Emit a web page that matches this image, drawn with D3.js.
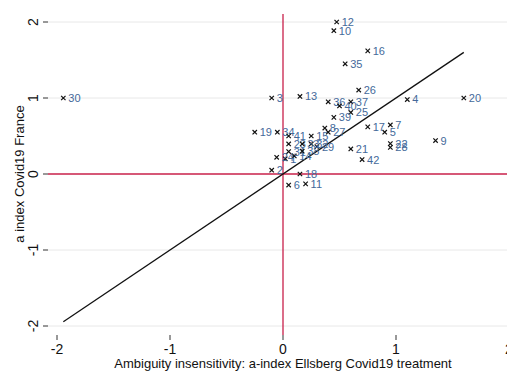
<!DOCTYPE html>
<html>
<head>
<meta charset="utf-8">
<script src="https://cdn.jsdelivr.net/npm/d3@7"></script>
<style>
  body { margin: 0; background: #fff; }
  svg { display: block; font-family: "Liberation Sans", Arial, sans-serif; }
</style>
</head>
<body>
<div id="chart"></div>
<script>
const WIDTH = 507;
const HEIGHT = 372;

// respondent ids and their two a-index values
const ids = [1, 2, 3, 4, 5, 6, 7, 8, 9, 10, 11, 12, 13, 14, 15, 16, 17, 18, 19, 20, 21,
  22, 23, 24, 25, 26, 27, 28, 29, 30, 31, 32, 33, 34, 35, 36, 37, 38, 39, 40, 41, 42];
const ellsberg = [0.02, -0.10, -0.10, 1.10, 0.90, 0.05, 0.95, 0.37, 1.35, 0.45, 0.20, 0.475, 0.15, 0.10,
  0.25, 0.75, 0.75, 0.15, -0.25, 1.60, 0.60, 0.95, 0.05, -0.056, 0.60, 0.67, 0.40, 0.95, 0.30, -1.944,
  0.05, 0.25, 0.17, -0.05, 0.55, 0.40, 0.60, 0.17, 0.45, 0.50, 0.05, 0.70];
const france = [0.20, 0.05, 1.00, 0.98, 0.55, -0.145, 0.645, 0.605, 0.44, 1.885, -0.13, 2.00, 1.02, 0.237,
  0.50, 1.62, 0.62, 0.00, 0.55, 1.00, 0.33, 0.40, 0.395, 0.22, 0.81, 1.105, 0.55, 0.35, 0.36, 1.00,
  0.295, 0.395, 0.395, 0.55, 1.45, 0.95, 0.95, 0.30, 0.745, 0.895, 0.50, 0.19];
const xTicks = [-2, -1, 0, 1, 2];
const yTicks = [-2, -1, 0, 1, 2];

const points = ids.map((id, i) => ({ id, x: ellsberg[i], y: france[i] }));

const plotLeft = 48, plotRight = 520, plotTop = 14, plotBottom = 335;

const x = d3.scaleLinear().domain([-2, 2]).range([57, 509]);
const y = d3.scaleLinear().domain([-2, 2]).range([326, 22]);

const svg = d3.select("#chart").append("svg")
  .attr("width", WIDTH)
  .attr("height", HEIGHT);

// horizontal grid
svg.append("g")
  .selectAll("line")
  .data(yTicks.filter(d => d !== 0))
  .enter().append("line")
  .attr("x1", plotLeft).attr("x2", plotRight)
  .attr("y1", d => y(d)).attr("y2", d => y(d))
  .attr("stroke", "#e8e8e8")
  .attr("stroke-width", 1);

// y axis ticks + rotated labels
const yAxis = svg.append("g");
yAxis.selectAll("line")
  .data(yTicks)
  .enter().append("line")
  .attr("x1", plotLeft - 5).attr("x2", plotLeft)
  .attr("y1", d => y(d)).attr("y2", d => y(d))
  .attr("stroke", "#333").attr("stroke-width", 1);
yAxis.selectAll("text")
  .data(yTicks)
  .enter().append("text")
  .attr("transform", d => `translate(38,${y(d)}) rotate(-90)`)
  .attr("text-anchor", "middle")
  .attr("font-size", 14)
  .attr("fill", "#111")
  .text(d => d);

// x axis ticks + labels
const xAxis = svg.append("g");
xAxis.selectAll("line")
  .data(xTicks)
  .enter().append("line")
  .attr("x1", d => x(d)).attr("x2", d => x(d))
  .attr("y1", plotBottom).attr("y2", plotBottom + 5)
  .attr("stroke", "#333").attr("stroke-width", 1);
xAxis.selectAll("text")
  .data(xTicks)
  .enter().append("text")
  .attr("x", d => x(d))
  .attr("y", 354)
  .attr("text-anchor", "middle")
  .attr("font-size", 14)
  .attr("fill", "#111")
  .text(d => d);

// axis titles
svg.append("text")
  .attr("x", x(0)).attr("y", 368)
  .attr("text-anchor", "middle")
  .attr("font-size", 13)
  .attr("fill", "#111")
  .text("Ambiguity insensitivity: a-index Ellsberg Covid19 treatment");

svg.append("text")
  .attr("transform", `translate(24,${y(0)}) rotate(-90)`)
  .attr("text-anchor", "middle")
  .attr("font-size", 13)
  .attr("fill", "#111")
  .text("a index Covid19 France");

// red reference lines at zero
svg.append("line")
  .attr("x1", plotLeft).attr("x2", plotRight)
  .attr("y1", y(0)).attr("y2", y(0))
  .attr("stroke", "#c8204a").attr("stroke-width", 1.3);
svg.append("line")
  .attr("x1", x(0)).attr("x2", x(0))
  .attr("y1", plotTop).attr("y2", plotBottom)
  .attr("stroke", "#c8204a").attr("stroke-width", 1.3);

// 45 degree line over the data range
const xr = d3.extent(ellsberg);
svg.append("line")
  .attr("x1", x(xr[0])).attr("y1", y(xr[0]))
  .attr("x2", x(xr[1])).attr("y2", y(xr[1]))
  .attr("stroke", "#111").attr("stroke-width", 1.3);

// markers (x) and labels
const s = 2.2;
const pts = svg.append("g")
  .selectAll("g")
  .data(points)
  .enter().append("g")
  .attr("transform", d => `translate(${x(d.x)},${y(d.y)})`);

pts.append("path")
  .attr("d", `M${-s},${-s}L${s},${s}M${-s},${s}L${s},${-s}`)
  .attr("stroke", "#111")
  .attr("stroke-width", 1.2);

pts.append("text")
  .attr("x", 5)
  .attr("dy", "0.36em")
  .attr("font-size", 11)
  .attr("fill", "#44699a")
  .text(d => d.id);
</script>
</body>
</html>
